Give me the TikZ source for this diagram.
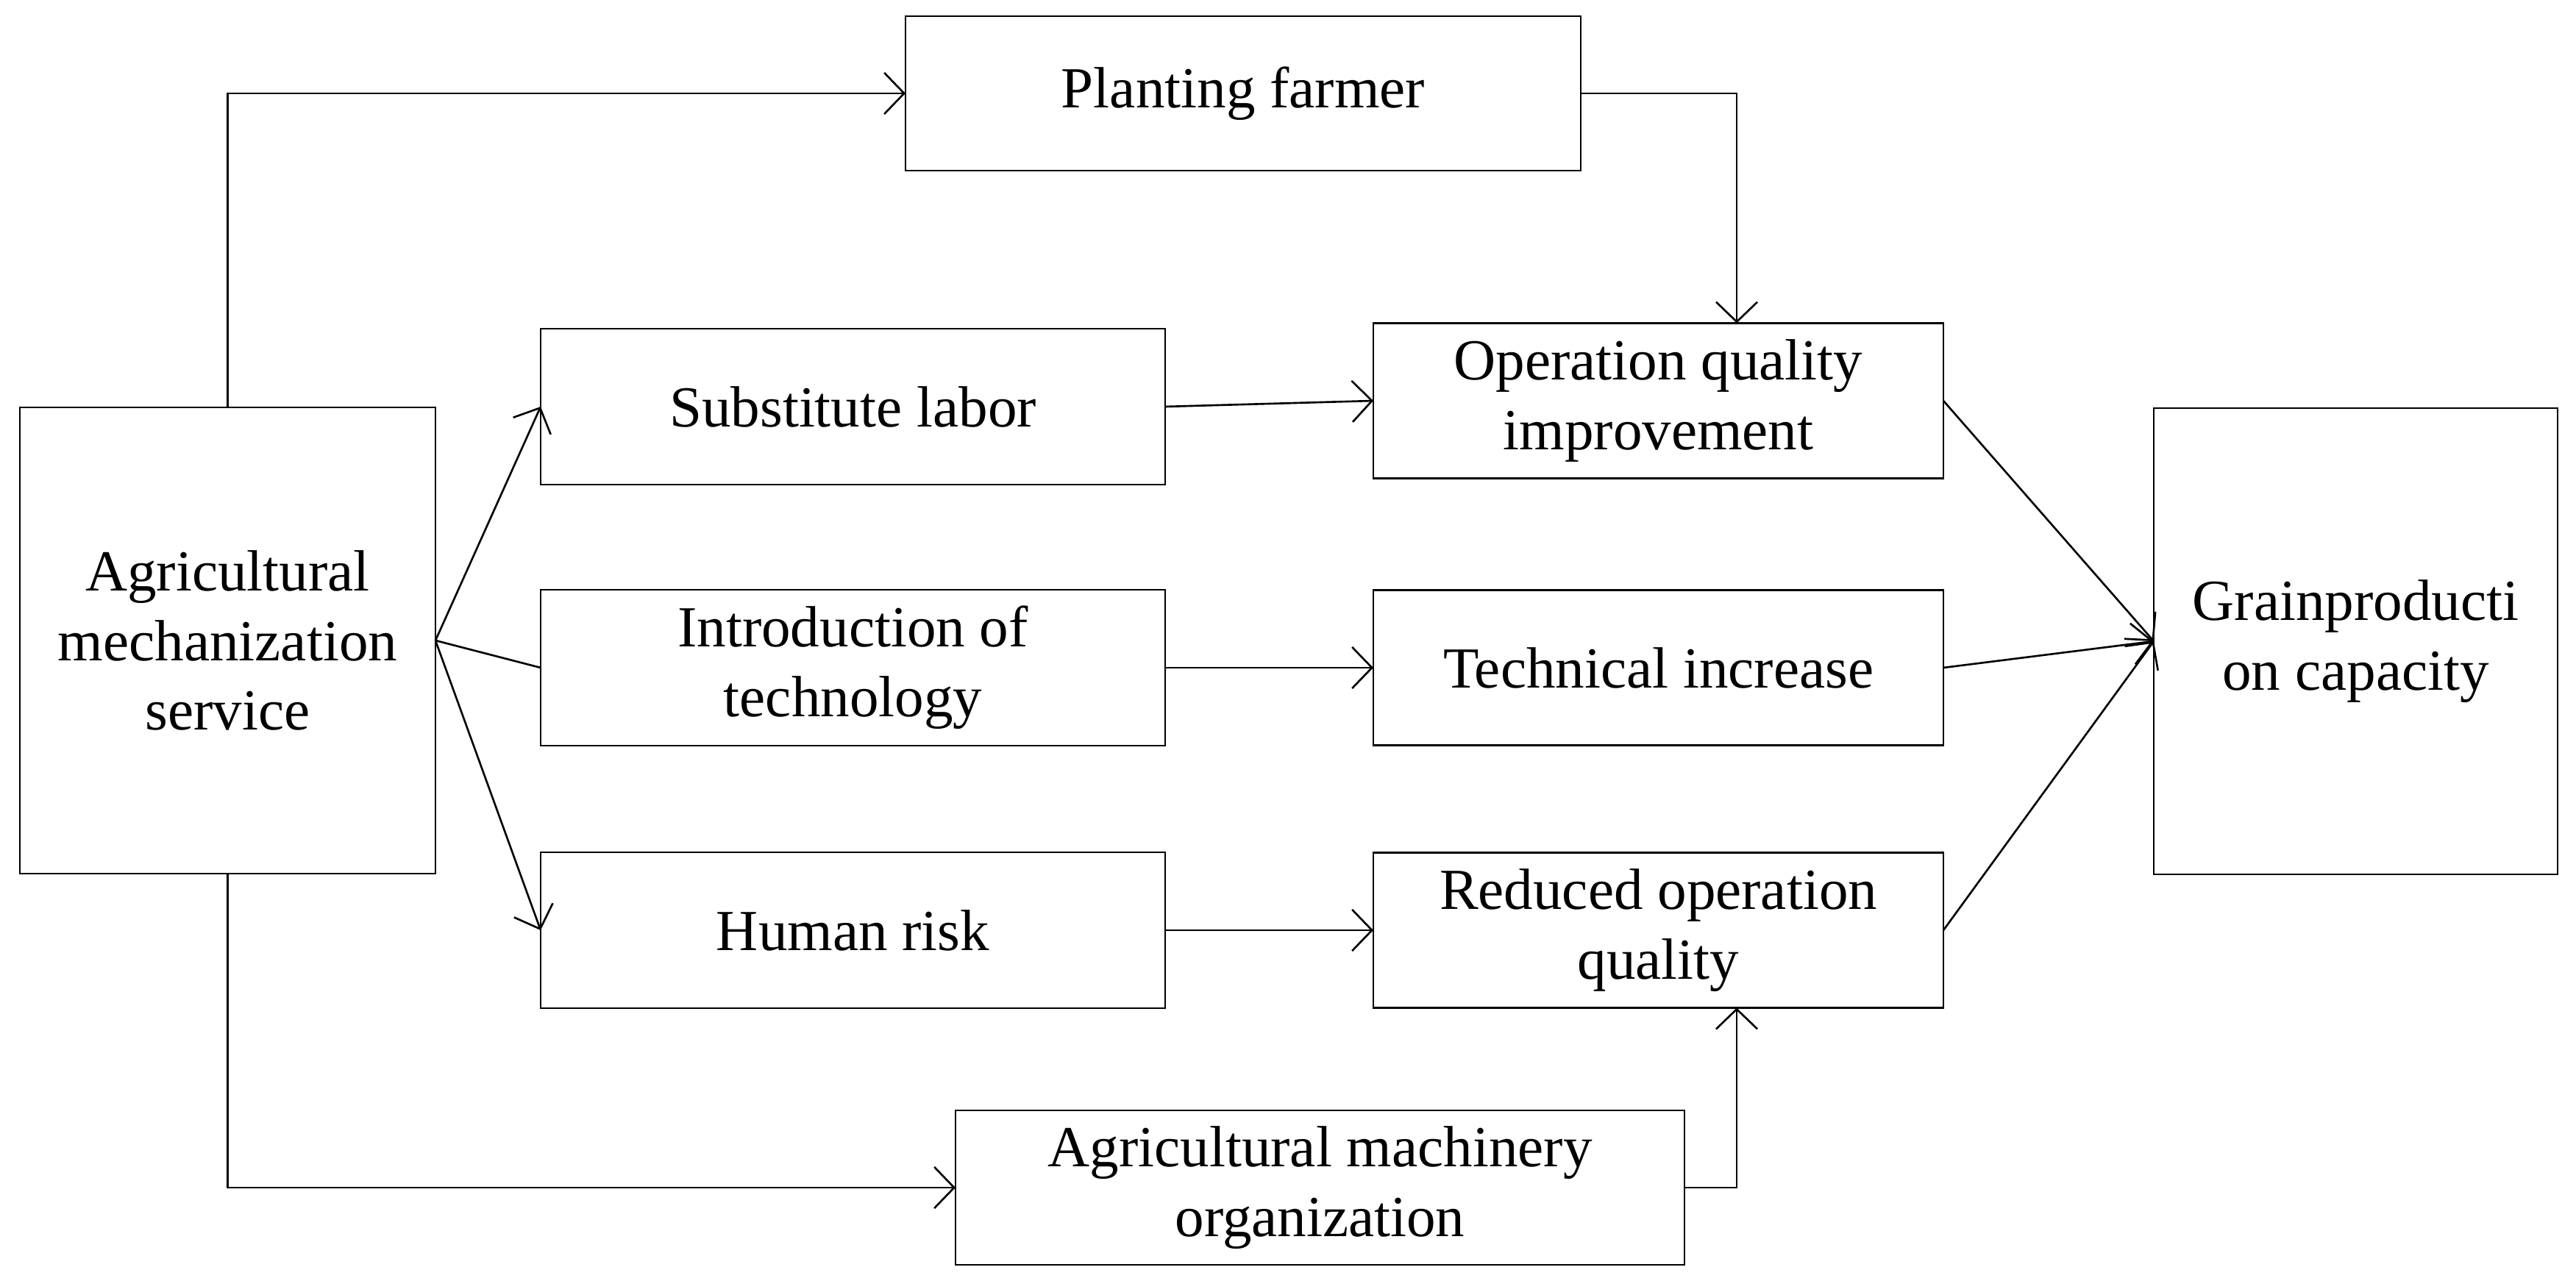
\documentclass[tikz,border=0pt]{standalone}
\usepackage{fontspec}
\setmainfont{Liberation Serif}
\usetikzlibrary{arrows.meta,positioning}
\tikzset{
  box/.style   = {draw, line width=0.75pt, align=center, inner sep=2pt, outer sep=0pt,
                  font=\fontsize{22.5}{27}\selectfont},
  mid/.style   = {box, minimum width=8.49cm, minimum height=2.12cm},
  effect/.style = {box, minimum width=7.75cm, minimum height=2.11cm},
  flow/.style  = {-{Straight Barb[length=2.7mm, width=5.6mm]}, line width=0.75pt},
  link/.style  = {line width=0.75pt},
}
\begin{document}
\begin{tikzpicture}[node distance=1.44cm and 2.83cm]
  \useasboundingbox (0,0) rectangle (35.02,-17.42);
  \node[box, minimum width=5.65cm, minimum height=6.34cm] (ams) at (3.095,-8.71)
    {Agricultural\\ mechanization\\ service};
  \node[mid, right=1.43cm of ams, yshift=31.8mm] (labor) {Substitute labor};
  \node[mid, below=1.43cm of labor] (intro) {Introduction of\\ technology};
  \node[mid, below=1.45cm of intro] (risk) {Human risk};
  \node[effect, right=of labor, yshift=0.8mm] (oqi) {Operation quality\\ improvement};
  \node[effect, right=of intro] (tech) {Technical increase};
  \node[effect, right=of risk] (roq) {Reduced operation\\ quality};
  \node[box, right=2.86cm of tech, yshift=3.6mm, minimum width=5.49cm,
        minimum height=6.34cm] (grain) {Grainproducti\\ on capacity};
  \node[box, minimum width=9.18cm, minimum height=2.10cm] (farmer) at (16.90,-1.27)
    {Planting farmer};
  \node[box, minimum width=9.91cm, minimum height=2.10cm] (machine) at (17.945,-16.15)
    {Agricultural machinery\\ organization};
  % upper and lower routes
  \draw[flow] (ams.north) |- (farmer.west);
  \draw[flow] (farmer.east) -| ([xshift=10.65mm]oqi.north);
  \draw[flow] (ams.south) |- (machine.west);
  \draw[flow] (machine.east) -| ([xshift=10.65mm]roq.south);
  % middle routes
  \draw[flow] (ams.east) -- (labor.west);
  \draw[link] (ams.east) -- (intro.west);
  \draw[flow] (ams.east) -- (risk.west);
  \draw[flow] (labor.east) -- (oqi.west);
  \draw[flow] (intro.east) -- (tech.west);
  \draw[flow] (risk.east) -- (roq.west);
  \draw[flow] (oqi.east) -- (grain.west);
  \draw[flow] (tech.east) -- (grain.west);
  \draw[flow] (roq.east) -- (grain.west);
\end{tikzpicture}
\end{document}
